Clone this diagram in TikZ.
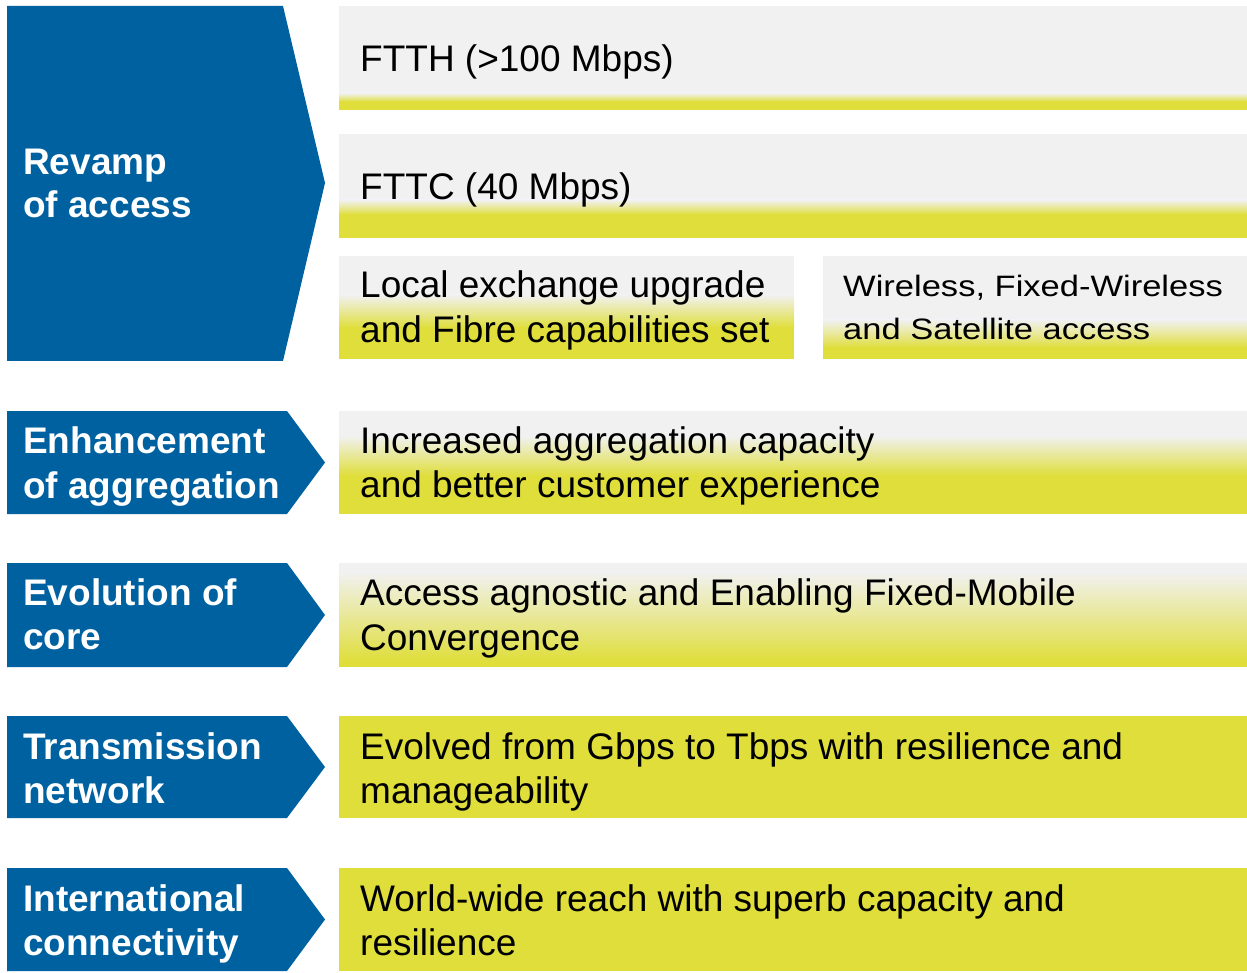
\documentclass[tikz,border=0pt]{standalone}
\usepackage{fontspec}
\setmainfont{Liberation Sans}
\newfontfamily\widefont[FakeStretch=1.17]{Liberation Sans}
\definecolor{arrowblue}{HTML}{0061A0}
\definecolor{panelgray}{HTML}{F1F1F1}
\definecolor{panelyellow}{HTML}{DFDE3A}
\tikzset{
  head/.style={anchor=base west, inner sep=0pt, text=white,
    font=\bfseries\fontsize{37}{44}\selectfont},
  body/.style={anchor=base west, inner sep=0pt, text=black,
    font=\fontsize{37}{44}\selectfont},
  bodysmall/.style={anchor=base west, inner sep=0pt, text=black,
    font=\widefont\fontsize{29.5}{40}\selectfont},
  chevron/.style={fill=arrowblue, draw=none},
}
% grey panel fading into a yellow band: x1, y1, x2, y2, fade start, fade end
\newcommand\panelbox[6]{%
  \fill[panelgray] (#1,#2) rectangle (#3,#5+0.5);
  \shade[top color=panelgray, bottom color=panelyellow] (#1,#5) rectangle (#3,#6);
  \fill[panelyellow] (#1,#6-0.5) rectangle (#3,#4);
}
% blue chevron: top, bottom
\newcommand\chevronshape[2]{%
  \fill[chevron] (7,#1) -- (287,#1) -- (325,{(#1+#2)/2}) -- (287,#2) -- (7,#2) -- cycle;
}
\begin{document}
\begin{tikzpicture}[x=1pt, y=-1pt]
\useasboundingbox (0,0) rectangle (1247,973);

% left column of chevrons
\fill[chevron] (7,6) -- (283,6) -- (325,183) -- (283,361) -- (7,361) -- cycle;
\chevronshape{411}{514}
\chevronshape{563}{667}
\chevronshape{716}{818}
\chevronshape{868}{971}

% right column of panels
\panelbox{339}{6}{1247}{110}{93}{102}
\panelbox{339}{134}{1247}{238}{200}{215}
\panelbox{339}{256}{794}{359}{295}{328}
\panelbox{823}{256}{1247}{359}{320}{348}
\panelbox{339}{411}{1247}{514}{436}{476}
\panelbox{339}{563}{1247}{667}{572}{662}
\fill[panelyellow] (339,716) rectangle (1247,818);
\fill[panelyellow] (339,868) rectangle (1247,971);

% chevron labels
\node[head] (revampA) at (23,175) {Revamp};
\node[head] (revampB) at (23,218) {of access};
\node[head] (enhA) at (23,453) {Enhancement};
\node[head] (enhB) at (23,498) {of aggregation};
\node[head] (evoA) at (23,605) {Evolution of};
\node[head] (evoB) at (23,649) {core};
\node[head] (transA) at (23,759) {Transmission};
\node[head] (transB) at (23,803) {network};
\node[head] (intA) at (23,911) {International};
\node[head] (intB) at (23,955) {connectivity};

% panel texts
\node[body] (ftth) at (360,72) {FTTH (>100 Mbps)};
\node[body] (fttc) at (360,200) {FTTC (40 Mbps)};
\node[body] (localA) at (360,298) {Local exchange upgrade};
\node[body] (localB) at (360,342) {and Fibre capabilities set};
\node[bodysmall] (wirelessA) at (843,297) {Wireless, Fixed-Wireless};
\node[bodysmall] (wirelessB) at (843,340) {and Satellite access};
\node[body] (aggA) at (360,453) {Increased aggregation capacity};
\node[body] (aggB) at (360,497) {and better customer experience};
\node[body] (coreA) at (360,605) {Access agnostic and Enabling Fixed-Mobile};
\node[body] (coreB) at (360,650) {Convergence};
\node[body] (txA) at (360,759) {Evolved from Gbps to Tbps with resilience and};
\node[body] (txB) at (360,803) {manageability};
\node[body] (worldA) at (360,911) {World-wide reach with superb capacity and};
\node[body] (worldB) at (360,955) {resilience};
\end{tikzpicture}
\end{document}
